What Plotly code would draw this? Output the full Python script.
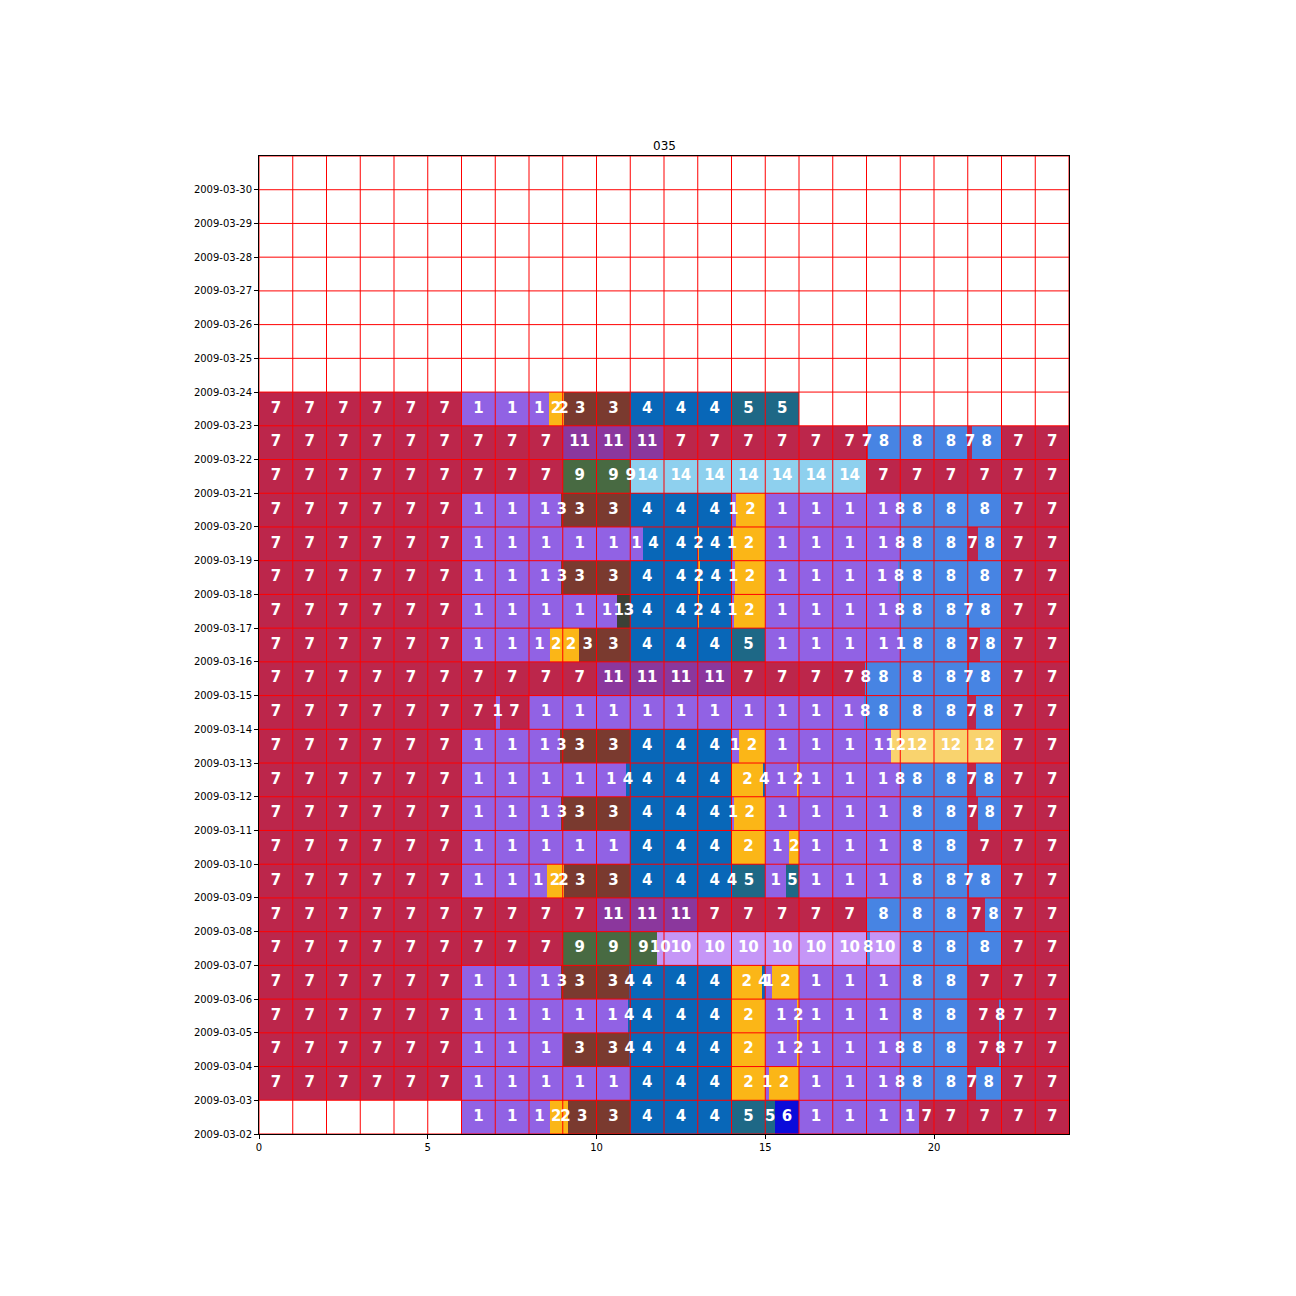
import plotly.graph_objects as go
import math

title = "035"

date_labels = [
    "2009-03-02", "2009-03-03", "2009-03-04", "2009-03-05", "2009-03-06",
    "2009-03-07", "2009-03-08", "2009-03-09", "2009-03-10", "2009-03-11",
    "2009-03-12", "2009-03-13", "2009-03-14", "2009-03-15", "2009-03-16",
    "2009-03-17", "2009-03-18", "2009-03-19", "2009-03-20", "2009-03-21",
    "2009-03-22", "2009-03-23", "2009-03-24", "2009-03-25", "2009-03-26",
    "2009-03-27", "2009-03-28", "2009-03-29", "2009-03-30",
]
hour_ticks = [0, 5, 10, 15, 20]

# (start hour, end hour, activity code) per day
d02 = [(6, 8.62, 1), (8.62, 9.16, 2), (9.16, 11, 3), (11, 14, 4), (14, 15.29, 5),
       (15.29, 16, 6), (16, 19.57, 1), (19.57, 24, 7)]
d03 = [(0, 6, 7), (6, 11, 1), (11, 14, 4), (14, 15, 2), (15, 15.11, 1), (15.11, 16, 2),
       (16, 18.98, 1), (18.98, 21, 8), (21, 21.25, 7), (21.25, 22, 8), (22, 24, 7)]
d04 = [(0, 6, 7), (6, 9, 1), (9, 10.97, 3), (10.97, 14, 4), (14, 15, 2), (15, 15.96, 1),
       (15.96, 16, 2), (16, 18.98, 1), (18.98, 21, 8), (21, 21.94, 7), (21.94, 22, 8), (22, 24, 7)]
d05 = [(0, 6, 7), (6, 10.94, 1), (10.94, 14, 4), (14, 15, 2), (15, 15.95, 1), (15.95, 16, 2),
       (16, 19, 1), (19, 21, 8), (21, 21.93, 7), (21.93, 22, 8), (22, 24, 7)]
d06 = [(0, 6, 7), (6, 8.95, 1), (8.95, 10.97, 3), (10.97, 14, 4), (14, 14.9, 2), (14.9, 15, 4),
       (15, 15.2, 1), (15.2, 16, 2), (16, 19, 1), (19, 21, 8), (21, 24, 7)]
d07 = [(0, 9, 7), (9, 11.78, 9), (11.78, 18.0, 10), (18.0, 18.1, 8), (18.1, 19, 10),
       (19, 22, 8), (22, 24, 7)]
d08 = [(0, 10, 7), (10, 13, 11), (13, 18, 7), (18, 21, 8), (21, 21.52, 7), (21.52, 22, 8), (22, 24, 7)]
d09 = [(0, 6, 7), (6, 8.54, 1), (8.54, 9.04, 2), (9.04, 11, 3), (11, 14.03, 4), (14.03, 15, 5),
       (15, 15.62, 1), (15.62, 16, 5), (16, 19, 1), (19, 21, 8), (21, 21.05, 7), (21.05, 22, 8), (22, 24, 7)]
d10 = [(0, 6, 7), (6, 11, 1), (11, 14, 4), (14, 15, 2), (15, 15.71, 1), (15.71, 16, 2),
       (16, 19, 1), (19, 21, 8), (21, 24, 7)]
d11 = [(0, 6, 7), (6, 8.95, 1), (8.95, 11, 3), (11, 14, 4), (14, 14.08, 1), (14.08, 15, 2),
       (15, 19, 1), (19, 21, 8), (21, 21.3, 7), (21.3, 22, 8), (22, 24, 7)]
d12 = [(0, 6, 7), (6, 10.87, 1), (10.87, 14, 4), (14, 14.95, 2), (14.95, 15, 4), (15, 15.94, 1),
       (15.94, 16, 2), (16, 18.98, 1), (18.98, 21, 8), (21, 21.25, 7), (21.25, 22, 8), (22, 24, 7)]
d13 = [(0, 6, 7), (6, 8.93, 1), (8.93, 11, 3), (11, 14, 4), (14, 14.22, 1), (14.22, 15, 2),
       (15, 18.73, 1), (18.73, 22, 12), (22, 24, 7)]
d14 = [(0, 7, 7), (7, 7.14, 1), (7.14, 8, 7), (8, 17.93, 1), (17.93, 21, 8), (21, 21.23, 7),
       (21.23, 22, 8), (22, 24, 7)]
d15 = [(0, 10, 7), (10, 14, 11), (14, 17.96, 7), (17.96, 21, 8), (21, 21.05, 7), (21.05, 22, 8), (22, 24, 7)]
d16 = [(0, 6, 7), (6, 8.62, 1), (8.62, 9.48, 2), (9.48, 11, 3), (11, 14, 4), (14, 15, 5),
       (15, 19.03, 1), (19.03, 21, 8), (21, 21.35, 7), (21.35, 22, 8), (22, 24, 7)]
d17 = [(0, 6, 7), (6, 10.62, 1), (10.62, 11, 13), (11, 13.0, 4), (13.0, 13.05, 2), (13.05, 14, 4),
       (14, 14.06, 1), (14.06, 15, 2), (15, 18.97, 1), (18.97, 21, 8), (21, 21.05, 7), (21.05, 22, 8), (22, 24, 7)]
d18 = [(0, 6, 7), (6, 8.95, 1), (8.95, 11, 3), (11, 13.0, 4), (13.0, 13.06, 2), (13.06, 14, 4),
       (14, 14.1, 1), (14.1, 15, 2), (15, 18.92, 1), (18.92, 22, 8), (22, 24, 7)]
d19 = [(0, 6, 7), (6, 11.37, 1), (11.37, 13.0, 4), (13.0, 13.04, 2), (13.04, 14, 4), (14, 14.03, 1),
       (14.03, 15, 2), (15, 18.98, 1), (18.98, 21, 8), (21, 21.3, 7), (21.3, 22, 8), (22, 24, 7)]
d20 = [(0, 6, 7), (6, 8.94, 1), (8.94, 11, 3), (11, 14, 4), (14, 14.12, 1), (14.12, 15, 2),
       (15, 18.98, 1), (18.98, 22, 8), (22, 24, 7)]
d21 = [(0, 9, 7), (9, 11.03, 9), (11.03, 18, 14), (18, 24, 7)]
d22 = [(0, 9, 7), (9, 12, 11), (12, 18.03, 7), (18.03, 21.0, 8), (21.0, 21.13, 7), (21.13, 22, 8), (22, 24, 7)]
d23 = [(0, 6, 7), (6, 8.6, 1), (8.6, 9.04, 2), (9.04, 11, 3), (11, 14, 4), (14, 16, 5)]

rows = [d02, d03, d04, d05, d06, d07, d08, d09, d10, d11, d12, d13, d14, d15, d16,
        d17, d18, d19, d20, d21, d22, d23]

COLORS = {
    1: "#9162E4", 2: "#FBB617", 3: "#7A3A2F", 4: "#0867B8", 5: "#1E6886",
    6: "#0B0BDA", 7: "#BC264B", 8: "#4784E3", 9: "#486A42", 10: "#C596F7",
    11: "#8B379D", 12: "#F9D36E", 13: "#3C4136", 14: "#8ED0EE",
}

fig = go.Figure()

# bars, one trace per activity code
for code in sorted(COLORS):
    xs, bases, ys = [], [], []
    for i, segs in enumerate(rows):
        for s, e, c in segs:
            if c == code:
                xs.append(e - s)
                bases.append(s)
                ys.append(i + 0.5)
    if xs:
        fig.add_trace(go.Bar(orientation="h", x=xs, base=bases, y=ys, width=1,
                             marker=dict(color=COLORS[code], line=dict(width=0)),
                             hoverinfo="skip", showlegend=False))

# grid (red) above the bars
n_rows_total = len(date_labels)  # 29 -> top at 2009-03-31
gx, gy = [], []
for h in range(0, 25):
    gx += [h, h, None]
    gy += [0, n_rows_total, None]
for d in range(0, n_rows_total + 1):
    gx += [0, 24, None]
    gy += [d, d, None]
fig.add_trace(go.Scatter(x=gx, y=gy, mode="lines", line=dict(color="#ff0000", width=1),
                         hoverinfo="skip", showlegend=False))

# labels: one per hour-piece of each segment
tx, ty, tt = [], [], []
for i, segs in enumerate(rows):
    for s, e, c in segs:
        for h in range(int(math.floor(s)), int(math.ceil(e))):
            a = max(s, h)
            b = min(e, h + 1)
            if b - a > 1e-9:
                tx.append((a + b) / 2)
                ty.append(i + 0.5)
                tt.append(str(c))
fig.add_trace(go.Scatter(x=tx, y=ty, text=tt, mode="text",
                         textfont=dict(color="white", size=15, family="DejaVu Sans", weight="bold"),
                         hoverinfo="skip", showlegend=False))

axis_common = dict(showgrid=False, zeroline=False, showline=True, linecolor="black",
                   linewidth=1, mirror=True, ticks="outside", ticklen=4, tickcolor="black",
                   tickfont=dict(family="DejaVu Sans", size=10, color="black"),
                   layer="above traces")

fig.update_layout(
    width=1296, height=1296,
    margin=dict(l=259, r=227, t=156, b=162),
    paper_bgcolor="white", plot_bgcolor="white",
    barmode="overlay", bargap=0, showlegend=False,
    xaxis=dict(range=[0, 24], tickvals=hour_ticks, **axis_common),
    yaxis=dict(range=[0, n_rows_total], tickvals=list(range(len(date_labels))),
               ticktext=date_labels, **axis_common),
    annotations=[dict(text=title, x=0.5, y=1, xref="paper", yref="paper",
                      xanchor="center", yanchor="bottom", yshift=1, showarrow=False,
                      font=dict(family="DejaVu Sans", size=12, color="black"))],
)

fig.write_html("out.html")
